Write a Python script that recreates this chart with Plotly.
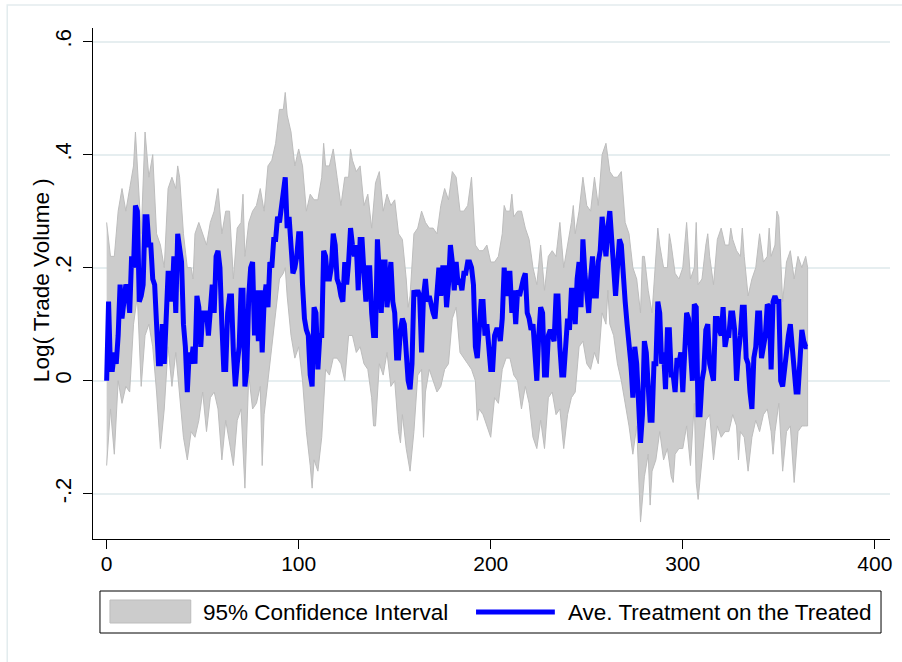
import plotly.graph_objects as go

# --- data ---
days = list(range(366))
att = [
    0.00, 0.14, 0.02, 0.02, 0.05, 0.03, 0.08, 0.17, 0.11, 0.14,
    0.17, 0.16, 0.12, 0.22, 0.20, 0.31, 0.30, 0.14, 0.15, 0.17,
    0.29, 0.29, 0.24, 0.24, 0.18, 0.17, 0.07, 0.03, 0.03, 0.10,
    0.03, 0.10, 0.19, 0.19, 0.14, 0.22, 0.12, 0.26, 0.23, 0.21,
    0.10, 0.06, -0.02, 0.05, 0.03, 0.06, 0.03, 0.15, 0.13, 0.06,
    0.12, 0.12, 0.12, 0.08, 0.12, 0.17, 0.12, 0.22, 0.23, 0.20,
    0.10, 0.02, 0.02, 0.12, 0.15, 0.15, 0.05, -0.01, 0.03, 0.06,
    0.16, 0.16, -0.01, 0.02, 0.15, 0.20, 0.21, 0.08, 0.16, 0.07,
    0.16, 0.05, 0.14, 0.17, 0.13, 0.21, 0.20, 0.25, 0.25, 0.29,
    0.28, 0.31, 0.33, 0.36, 0.27, 0.29, 0.24, 0.19, 0.20, 0.22,
    0.26, 0.26, 0.17, 0.11, 0.09, 0.08, 0.01, -0.01, 0.13, 0.12,
    0.02, 0.08, 0.08, 0.23, 0.22, 0.18, 0.18, 0.20, 0.26, 0.24,
    0.18, 0.17, 0.15, 0.14, 0.21, 0.17, 0.21, 0.27, 0.24, 0.22,
    0.24, 0.16, 0.25, 0.25, 0.19, 0.14, 0.20, 0.20, 0.12, 0.08,
    0.08, 0.25, 0.19, 0.12, 0.21, 0.21, 0.13, 0.18, 0.21, 0.14,
    0.12, 0.04, 0.04, 0.09, 0.11, 0.10, 0.04, 0.00, -0.015, 0.03,
    0.16, 0.15, 0.16, 0.15, 0.05, 0.15, 0.18, 0.14, 0.15, 0.13,
    0.12, 0.11, 0.17, 0.20, 0.15, 0.20, 0.20, 0.13, 0.17, 0.24,
    0.21, 0.16, 0.21, 0.17, 0.18, 0.16, 0.19, 0.19, 0.21, 0.21,
    0.20, 0.17, 0.06, 0.04, 0.09, 0.14, 0.14, 0.08, 0.10, 0.05,
    0.02, 0.02, 0.08, 0.09, 0.09, 0.07, 0.11, 0.20, 0.15, 0.19,
    0.19, 0.12, 0.16, 0.10, 0.16, 0.15, 0.17, 0.18, 0.19, 0.12,
    0.11, 0.09, 0.10, 0.04, 0.00, 0.08, 0.13, 0.12, 0.01, 0.01,
    0.08, 0.09, 0.08, 0.07, 0.15, 0.15, 0.06, 0.01, 0.01, 0.07,
    0.11, 0.09, 0.16, 0.16, 0.10, 0.18, 0.21, 0.13, 0.25, 0.19,
    0.15, 0.12, 0.18, 0.22, 0.15, 0.15, 0.21, 0.23, 0.29, 0.26,
    0.22, 0.27, 0.30, 0.25, 0.20, 0.15, 0.20, 0.25, 0.24, 0.17,
    0.14, 0.10, 0.07, 0.03, -0.03, 0.06, 0.03, -0.05, -0.11, -0.06,
    0.07, 0.05, -0.01, -0.07, -0.07, 0.03, 0.03, 0.14, 0.12, 0.03,
    0.05, -0.015, 0.09, 0.09, 0.01, 0.01, -0.02, 0.04, 0.03, 0.05,
    -0.02, 0.06, 0.12, 0.11, 0.03, 0.00, 0.135, 0.13, -0.06, -0.06,
    0.00, 0.02, 0.09, 0.10, 0.03, 0.01, 0.00, 0.11, 0.11, 0.09,
    0.08, 0.13, 0.06, 0.08, 0.08, 0.12, 0.12, 0.09, 0.00, 0.05,
    0.08, 0.13, 0.13, 0.04, 0.03, -0.02, -0.05, 0.04, 0.06, 0.12,
    0.12, 0.04, 0.06, 0.08, 0.135, 0.13, 0.02, 0.14, 0.15, 0.14,
    0.14, 0.00, -0.01, 0.02, 0.06, 0.08, 0.10, 0.06, 0.03, -0.02,
    -0.02, 0.06, 0.09, 0.07, 0.06, 0.06,
]

upper_days = [
    0, 2, 4, 6, 8, 10, 12, 14, 15, 16,
    18, 20, 22, 24, 26, 28, 30, 32, 34, 36,
    37, 38, 40, 42, 44, 45, 46, 48, 50, 52,
    54, 56, 58, 60, 62, 64, 66, 68, 70, 71,
    72, 74, 76, 78, 80, 82, 84, 86, 88, 90,
    92, 93, 94, 96, 98, 100, 102, 104, 106, 108,
    110, 112, 113, 114, 116, 118, 120, 122, 124, 126,
    127, 128, 130, 132, 134, 136, 138, 140, 142, 144,
    146, 148, 150, 152, 154, 156, 157, 158, 160, 162,
    164, 166, 168, 170, 172, 174, 176, 178, 180, 182,
    184, 186, 188, 190, 192, 194, 196, 198, 200, 202,
    204, 206, 207, 208, 210, 211, 212, 214, 216, 218,
    220, 222, 224, 226, 227, 228, 230, 232, 234, 236,
    238, 240, 242, 243, 244, 246, 248, 250, 252, 254,
    256, 258, 260, 262, 264, 266, 268, 270, 272, 274,
    276, 278, 279, 280, 282, 284, 286, 287, 288, 290,
    292, 293, 294, 296, 298, 300, 302, 304, 306, 307,
    308, 310, 312, 313, 314, 316, 318, 320, 322, 324,
    325, 326, 328, 330, 331, 332, 334, 336, 338, 340,
    342, 344, 345, 346, 348, 349, 350, 352, 354, 356,
    358, 360, 362, 364, 365,
]
upper = [
    0.28, 0.22, 0.22, 0.30, 0.34, 0.30, 0.34, 0.38, 0.44, 0.38,
    0.26, 0.44, 0.36, 0.40, 0.26, 0.24, 0.20, 0.34, 0.36, 0.34,
    0.38, 0.36, 0.26, 0.20, 0.20, 0.18, 0.26, 0.28, 0.26, 0.24,
    0.28, 0.30, 0.34, 0.26, 0.30, 0.30, 0.18, 0.27, 0.28, 0.33,
    0.22, 0.28, 0.30, 0.31, 0.34, 0.30, 0.38, 0.39, 0.42, 0.48,
    0.48, 0.51, 0.47, 0.44, 0.38, 0.41, 0.38, 0.30, 0.33, 0.32,
    0.32, 0.36, 0.42, 0.38, 0.38, 0.41, 0.36, 0.31, 0.36, 0.36,
    0.41, 0.39, 0.37, 0.38, 0.31, 0.33, 0.27, 0.35, 0.37, 0.30,
    0.33, 0.31, 0.32, 0.26, 0.25, 0.18, 0.13, 0.15, 0.26, 0.27,
    0.30, 0.28, 0.27, 0.27, 0.26, 0.31, 0.34, 0.32, 0.37, 0.36,
    0.30, 0.30, 0.31, 0.36, 0.24, 0.23, 0.23, 0.24, 0.21, 0.21,
    0.22, 0.26, 0.31, 0.30, 0.30, 0.33, 0.29, 0.30, 0.30, 0.27,
    0.25, 0.20, 0.17, 0.24, 0.20, 0.16, 0.22, 0.23, 0.22, 0.28,
    0.20, 0.24, 0.28, 0.31, 0.26, 0.30, 0.36, 0.31, 0.30, 0.36,
    0.31, 0.40, 0.42, 0.37, 0.36, 0.36, 0.37, 0.28, 0.26, 0.20,
    0.18, 0.12, 0.22, 0.22, 0.16, 0.12, 0.21, 0.27, 0.24, 0.20,
    0.20, 0.26, 0.24, 0.19, 0.18, 0.20, 0.28, 0.18, 0.20, 0.28,
    0.17, 0.18, 0.24, 0.26, 0.22, 0.17, 0.25, 0.27, 0.24, 0.24,
    0.27, 0.25, 0.23, 0.22, 0.27, 0.22, 0.15, 0.18, 0.20, 0.26,
    0.21, 0.22, 0.27, 0.22, 0.24, 0.30, 0.29, 0.14, 0.21, 0.23,
    0.18, 0.22, 0.20, 0.22, 0.20,
]

lower_days = [
    0, 2, 4, 6, 8, 10, 12, 14, 16, 18,
    20, 22, 24, 26, 28, 30, 32, 34, 36, 38,
    40, 42, 44, 46, 48, 50, 52, 54, 56, 58,
    60, 62, 64, 66, 68, 70, 72, 74, 76, 78,
    80, 81, 82, 84, 86, 88, 90, 92, 93, 94,
    96, 98, 100, 102, 104, 106, 107, 108, 110, 112,
    114, 116, 118, 120, 122, 124, 126, 128, 130, 132,
    134, 136, 138, 139, 140, 142, 144, 146, 148, 150,
    152, 153, 154, 156, 158, 160, 162, 164, 165, 166,
    168, 170, 172, 174, 176, 178, 180, 182, 184, 186,
    188, 190, 192, 193, 194, 196, 198, 200, 202, 204,
    206, 208, 210, 212, 214, 216, 218, 220, 222, 224,
    226, 228, 230, 232, 234, 236, 238, 240, 242, 244,
    246, 248, 250, 252, 254, 256, 258, 260, 261, 262,
    264, 266, 268, 270, 272, 274, 276, 278, 280, 282,
    283, 284, 286, 288, 290, 292, 294, 295, 296, 298,
    300, 302, 304, 306, 307, 308, 310, 312, 314, 316,
    318, 320, 322, 324, 326, 328, 329, 330, 332, 334,
    336, 338, 340, 342, 344, 346, 347, 348, 350, 352,
    354, 356, 358, 360, 362, 364, 365,
]
lower = [
    -0.15, -0.05, -0.13, 0.00, -0.04, -0.01, -0.02, 0.10, 0.15, -0.01,
    0.08, 0.10, 0.06, -0.02, -0.12, -0.05, 0.06, -0.01, 0.05, -0.03,
    -0.10, -0.14, -0.09, -0.10, -0.07, -0.02, -0.09, -0.03, -0.02, -0.05,
    -0.14, -0.07, -0.11, -0.15, -0.07, -0.05, -0.19, 0.01, -0.05, -0.04,
    -0.01, -0.15, -0.06, 0.00, 0.06, 0.12, 0.18, 0.19, 0.20, 0.15,
    0.08, 0.04, 0.06, 0.00, -0.09, -0.15, -0.19, -0.14, -0.16, -0.10,
    0.02, 0.01, 0.04, 0.04, 0.03, 0.00, 0.08, 0.08, 0.05, 0.06,
    0.03, 0.02, -0.03, -0.08, -0.08, 0.03, 0.01, 0.05, -0.01, 0.00,
    -0.09, -0.11, -0.06, -0.12, -0.16, -0.09, 0.01, 0.02, -0.10, -0.02,
    0.02, 0.00, -0.02, -0.01, 0.02, 0.03, 0.11, 0.13, 0.05, 0.04,
    0.03, 0.02, 0.00, -0.07, -0.05, -0.06, -0.08, -0.10, -0.03, -0.04,
    0.02, 0.04, 0.04, 0.01, 0.00, -0.05, -0.01, -0.04, -0.10, -0.12,
    -0.07, -0.12, -0.03, -0.02, -0.06, -0.05, -0.12, -0.06, -0.03, -0.02,
    0.06, 0.07, 0.03, 0.02, 0.05, 0.03, 0.12, 0.10, 0.16, 0.10,
    0.08, 0.03, 0.00, -0.04, -0.08, -0.13, -0.08, -0.25, -0.17, -0.13,
    -0.22, -0.16, -0.14, -0.09, -0.14, -0.12, -0.17, -0.18, -0.13, -0.12,
    -0.12, -0.08, -0.15, -0.04, -0.18, -0.21, -0.14, -0.07, -0.06, -0.14,
    -0.08, -0.10, -0.09, -0.09, -0.06, -0.08, -0.14, -0.09, -0.10, -0.16,
    -0.10, -0.07, -0.09, -0.06, -0.05, -0.09, -0.13, -0.09, -0.04, -0.16,
    -0.09, -0.08, -0.18, -0.09, -0.08, -0.08, -0.08,
]

x_ticks = [0, 100, 200, 300, 400]
y_ticks = [-0.2, 0, 0.2, 0.4, 0.6]
y_ticktext = ["-.2", "0", ".2", ".4", ".6"]

FONT = "Liberation Sans, Arial, Helvetica, sans-serif"
W, H = 902, 662
ML, MR, MT, MB = 93, 10, 28, 123


# pixel -> paper helpers for the hand-made legend / frame
def px(x):
    return (x - ML) / (W - ML - MR)


def py(y):
    return (H - MB - y) / (H - MT - MB)


fig = go.Figure()

# confidence band as a closed polygon
fig.add_trace(go.Scatter(
    x=upper_days + lower_days[::-1],
    y=upper + lower[::-1],
    fill="toself", fillcolor="#cccccc",
    line=dict(color="#bdbdbd", width=1),
    mode="lines", hoverinfo="skip", showlegend=False))

fig.add_trace(go.Scatter(
    x=days, y=att, mode="lines",
    line=dict(color="#0000ff", width=5),
    showlegend=False))

shapes = [
    # outer graph-region frame
    dict(type="rect", xref="paper", yref="paper", x0=px(7), x1=px(910), y0=py(670), y1=py(5),
         line=dict(color="#e3ecee", width=1.5), fillcolor="rgba(0,0,0,0)", layer="below"),
    # legend box
    dict(type="rect", xref="paper", yref="paper", x0=px(100), x1=px(883), y0=py(633), y1=py(591),
         line=dict(color="black", width=1), fillcolor="white"),
    dict(type="rect", xref="paper", yref="paper", x0=px(110), x1=px(191), y0=py(623), y1=py(600),
         line=dict(color="#bdbdbd", width=1), fillcolor="#cccccc"),
    dict(type="line", xref="paper", yref="paper", x0=px(477), x1=px(556), y0=py(612), y1=py(612),
         line=dict(color="#0000ff", width=5)),
]

annotations = [
    dict(text="Log( Trade Volume )", xref="paper", yref="paper", x=px(41), y=py(280),
         textangle=-90, showarrow=False, xanchor="center", yanchor="middle",
         font=dict(family=FONT, size=22.5, color="black")),
    dict(text="95% Confidence Interval", xref="paper", yref="paper", x=px(201), y=py(612),
         showarrow=False, xanchor="left", yanchor="middle",
         font=dict(family=FONT, size=22.5, color="black")),
    dict(text="Ave. Treatment on the Treated", xref="paper", yref="paper", x=px(567), y=py(612),
         showarrow=False, xanchor="left", yanchor="middle",
         font=dict(family=FONT, size=22.5, color="black")),
]

fig.update_layout(
    width=W, height=H,
    margin=dict(l=ML, r=MR, t=MT, b=MB, pad=0),
    paper_bgcolor="white", plot_bgcolor="white",
    font=dict(family=FONT, size=21, color="black"),
    shapes=shapes, annotations=annotations,
    xaxis=dict(range=[-7.1, 407.9], tickvals=x_ticks, showgrid=False, zeroline=False,
               showline=True, linecolor="black", linewidth=1,
               ticks="outside", ticklen=9, tickwidth=1, tickcolor="black",
               ticklabelstandoff=-3),
    yaxis=dict(range=[-0.280, 0.624], tickvals=y_ticks, ticktext=y_ticktext, tickangle=-90,
               showgrid=True, gridcolor="#e6eef0", gridwidth=1.5, zeroline=False,
               showline=True, linecolor="black", linewidth=1,
               ticks="outside", ticklen=9, tickwidth=1, tickcolor="black",
               ticklabelstandoff=3, tickfont=dict(size=22)),
)

# drop the browser's default 8px body margin so the figure sits at (0, 0)
fig.write_html("out.html", config={"displayModeBar": False},
               post_script="document.body.style.margin = '0px';")
